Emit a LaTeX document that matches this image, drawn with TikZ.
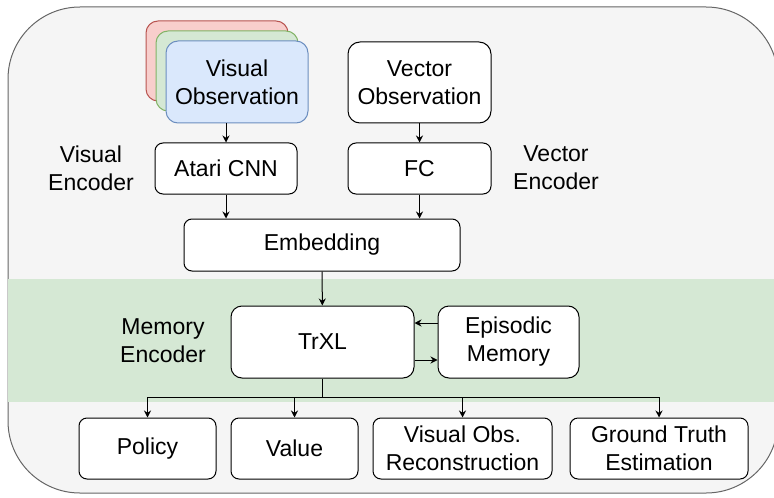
\documentclass[tikz,border=0pt]{standalone}
\usepackage{fontspec}
\setmainfont{Liberation Sans}
\usetikzlibrary{arrows.meta}

\definecolor{outerfill}{HTML}{F5F5F5}
\definecolor{outerline}{HTML}{666666}
\definecolor{bandgreen}{HTML}{D5E8D4}
\definecolor{bluefill}{HTML}{DAE8FC}
\definecolor{blueline}{HTML}{6C8EBF}
\definecolor{greenfill}{HTML}{D5E8D4}
\definecolor{greenline}{HTML}{82B366}
\definecolor{redfill}{HTML}{F8CECC}
\definecolor{redline}{HTML}{B85450}

\begin{document}
\begin{tikzpicture}[x=0.5pt,y=-0.5pt,>={Stealth[length=3.5pt,width=3.5pt]},
  line width=0.5pt,
  block node/.style={draw,fill=white,rounded corners=4pt,align=center,inner sep=0pt,
    minimum height=25.5pt,font=\fontsize{11.5}{14}\selectfont},
  big node/.style={block node,minimum height=41pt,rounded corners=6pt},
  label node/.style={align=center,font=\fontsize{11.5}{14}\selectfont}]
  \useasboundingbox (0,0) rectangle (774,497);
  % background and memory band
  \draw[draw=outerline,fill=outerfill,rounded corners=36pt] (8,7) rectangle (778,493);
  \fill[bandgreen] (8,279) rectangle (778,402);

  % observations
  \node[big node,minimum width=71pt,minimum height=40pt,fill=redfill,draw=redline] (stackr) at (217,61) {};
  \node[big node,minimum width=71pt,minimum height=40pt,fill=greenfill,draw=greenline] (stackg) at (227,71) {};
  \node[big node,minimum width=71pt,fill=bluefill,draw=blueline] (visobs) at (237,82) {Visual\\Observation};
  \node[big node,minimum width=71.5pt,minimum height=40.5pt] (vecobs) at (419.5,82.5) {Vector\\Observation};

  % encoders
  \node[block node,minimum width=71pt] (atari) at (226,168.5) {Atari CNN};
  \node[block node,minimum width=71.5pt] (fc) at (419.5,168.5) {FC};
  \node[label node] (vislbl) at (91,168) {Visual\\Encoder};
  \node[label node] (veclbl) at (556,168) {Vector\\Encoder};
  \node[block node,minimum width=138pt,minimum height=26pt] (embed) at (322,245) {Embedding};

  % memory
  \node[block node,minimum width=91.5pt,minimum height=36pt,rounded corners=5.5pt] (trxl) at (322.5,342) {TrXL};
  \node[block node,minimum width=70.5pt,minimum height=36pt,rounded corners=5.5pt] (epmem) at (508.5,342) {Episodic\\Memory};
  \node[label node] (memlbl) at (163,341) {Memory\\Encoder};

  % heads
  \node[block node,minimum width=68.5pt,minimum height=30.5pt] (policy) at (147.5,448.5) {Policy};
  \node[block node,minimum width=63.5pt,minimum height=30.5pt] (value) at (294.5,448.5) {Value};
  \node[block node,minimum width=89.5pt,minimum height=30.5pt] (visrec) at (462.5,448.5) {Visual Obs.\\Reconstruction};
  \node[block node,minimum width=89pt,minimum height=30.5pt] (truth) at (659,448.5) {Ground Truth\\Estimation};
  \coordinate (split) at (322.5,397);

  \draw[->] (atari.north |- visobs.south) -- (atari.north);
  \draw[->] (vecobs) -- (fc);
  \draw[->] (atari.south) -- (atari.south |- embed.north);
  \draw[->] (fc.south) -- (fc.south |- embed.north);
  \draw[->] (embed) -- (trxl);
  \draw[->] ([yshift=9.5pt]epmem.west) -- ([yshift=9.5pt]trxl.east);
  \draw[->] ([yshift=-9pt]trxl.east) -- ([yshift=-9pt]epmem.west);
  \draw (trxl.south) -- (split);
  \draw[->] (split) -| (policy.north);
  \draw[->] (split) -| (value.north);
  \draw[->] (split) -| (visrec.north);
  \draw[->] (split) -| (truth.north);
\end{tikzpicture}
\end{document}
